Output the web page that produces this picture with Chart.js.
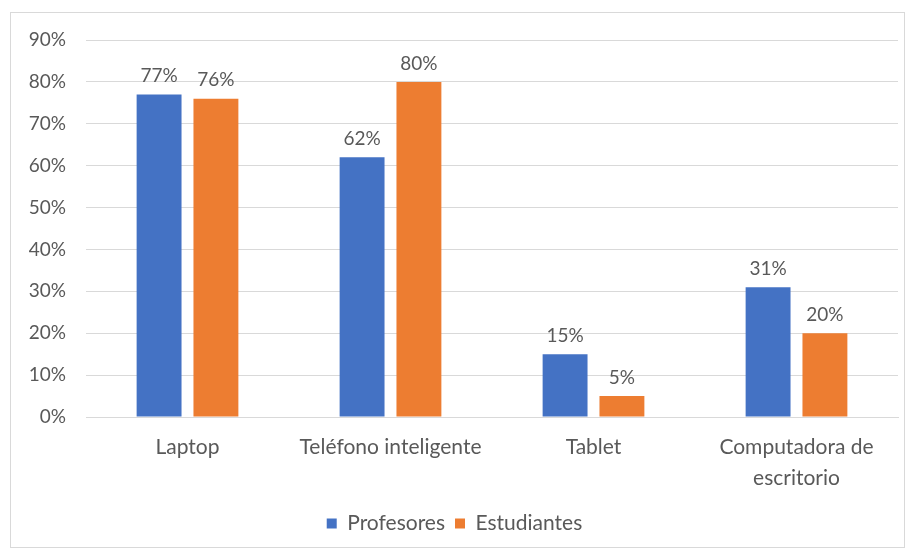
<!DOCTYPE html>
<html>
<head>
<meta charset="utf-8">
<script src="https://cdn.jsdelivr.net/npm/chart.js@4"></script>
<style>
  body { margin: 0; background: #fff; }
  #marco {
    position: absolute; left: 10px; top: 12px; width: 893px; height: 534px;
    border: 1px solid #d9d9d9; background: #fff;
  }
  #grafico { display: block; }
</style>
</head>
<body>
<div id="marco"><canvas id="grafico" width="893" height="534"></canvas></div>
<script>
const categorias = ['Laptop', 'Teléfono inteligente', 'Tablet', ['Computadora de', 'escritorio']];
const profesores = [77, 62, 15, 31];
const estudiantes = [76, 80, 5, 20];
const ticksY = [0, 10, 20, 30, 40, 50, 60, 70, 80, 90];

const colorTexto = '#595959';
const fuente = "Lato, 'Open Sans', sans-serif";

// etiquetas de valor encima de cada barra
const etiquetas = {
  id: 'etiquetas',
  afterDatasetsDraw(chart) {
    const ctx = chart.ctx;
    ctx.save();
    ctx.font = '19px ' + fuente;
    ctx.fillStyle = colorTexto;
    ctx.textAlign = 'center';
    ctx.textBaseline = 'bottom';
    chart.data.datasets.forEach((ds, i) => {
      chart.getDatasetMeta(i).data.forEach((barra, j) => {
        ctx.fillText(ds.data[j] + '%', barra.x, barra.y - 9);
      });
    });
    ctx.restore();
  }
};

const grafico = new Chart(document.getElementById('grafico'), {
  type: 'bar',
  data: {
    labels: categorias,
    datasets: [
      { label: 'Profesores', data: profesores, backgroundColor: '#4472C4' },
      { label: 'Estudiantes', data: estudiantes, backgroundColor: '#ED7D31' }
    ]
  },
  options: {
    responsive: false,
    animation: false,
    layout: { padding: { left: 0, right: 6, top: 0, bottom: 3 } },
    datasets: { bar: { categoryPercentage: 0.56, barPercentage: 0.79 } },
    scales: {
      x: {
        grid: { display: false },
        border: { color: '#d9d9d9' },
        afterFit(axis) { axis.height = 86; },
        ticks: { color: colorTexto, font: { family: fuente, size: 21, lineHeight: 1.5 }, padding: 6, maxRotation: 0 }
      },
      y: {
        min: 0, max: 90,
        afterBuildTicks(axis) { axis.ticks = ticksY.map(v => ({ value: v })); },
        afterFit(axis) { axis.width = 75; axis.paddingTop = 27; },
        grid: { color: '#d9d9d9', drawTicks: false },
        border: { display: false },
        ticks: { color: colorTexto, font: { family: fuente, size: 19 }, padding: 20, callback: v => v + '%' }
      }
    },
    plugins: {
      legend: {
        position: 'bottom',
        labels: { boxWidth: 10, boxHeight: 10, color: colorTexto, font: { family: fuente, size: 21 }, padding: 10 }
      },
      tooltip: { enabled: false }
    }
  },
  plugins: [etiquetas]
});
</script>
</body>
</html>
